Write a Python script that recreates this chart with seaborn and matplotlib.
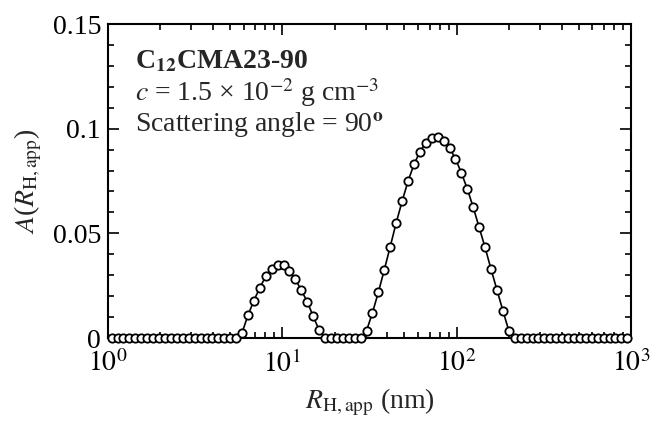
import numpy as np
import pandas as pd
import matplotlib
matplotlib.use("Agg")
import matplotlib.pyplot as plt
import seaborn as sns
from matplotlib.ticker import LogLocator, MultipleLocator, NullFormatter, FixedLocator

# Apparent hydrodynamic radius grid (nm)
r_h_app = [
    1.049, 1.135, 1.227, 1.327, 1.435, 1.552, 1.679, 1.816, 1.963, 2.123,
    2.296, 2.483, 2.685, 2.904, 3.141, 3.396, 3.673, 3.972, 4.295, 4.645,
    5.023, 5.433, 5.875, 6.353, 6.871, 7.430, 8.035, 8.690, 9.397, 10.16,
    10.99, 11.89, 12.85, 13.90, 15.03, 16.26, 17.58, 19.01, 20.56, 22.23,
    24.04, 26.00, 28.12, 30.41, 32.89, 35.56, 38.46, 41.59, 44.98, 48.64,
    52.60, 56.89, 61.52, 66.53, 71.94, 77.80, 84.14, 90.99, 98.40, 106.4,
    115.1, 124.5, 134.6, 145.5, 157.4, 170.2, 184.1, 199.1, 215.3, 232.8,
    251.8, 272.3, 294.4, 318.4, 344.4, 372.4, 402.7, 435.5, 471.0, 509.3,
    550.8, 595.7, 644.2, 696.6, 753.4, 814.7, 881.0, 952.8,
]

# Distribution A(R_H,app)
a_values = (
    [0.0] * 22
    + [0.0025, 0.0109, 0.0179, 0.0241, 0.0294, 0.0329, 0.0347, 0.0347,
       0.0321, 0.0281, 0.0227, 0.0174, 0.0103, 0.0038]
    + [0.0] * 7
    + [0.0035, 0.0121, 0.0219, 0.0326, 0.0437, 0.0550, 0.0653, 0.0749,
       0.0829, 0.0890, 0.0933, 0.0954, 0.0962, 0.0941, 0.0909, 0.0856,
       0.0789, 0.0712, 0.0624, 0.0528, 0.0433, 0.0329, 0.0230, 0.0131,
       0.0035]
    + [0.0] * 20
)

x_ticks = [1, 10, 100, 1000]
x_tick_labels = [r"$10^{0}$", r"$10^{1}$", r"$10^{2}$", r"$10^{3}$"]
y_ticks = [0, 0.05, 0.1, 0.15]
y_tick_labels = ["0", "0.05", "0.1", "0.15"]

df = pd.DataFrame({"R": r_h_app, "A": a_values})

sns.set_theme(style="ticks")
plt.rcParams["font.family"] = ["Liberation Serif", "DejaVu Serif"]
plt.rcParams["mathtext.fontset"] = "stix"

fig = plt.figure(figsize=(6.55, 4.21), dpi=100)
ax = fig.add_axes([108 / 655, 1 - 338 / 421, (631 - 108) / 655, (338 - 24) / 421])

sns.lineplot(
    data=df, x="R", y="A", ax=ax, color="black", linewidth=1.2,
    marker="o", markersize=6.0, markerfacecolor="white",
    markeredgecolor="black", markeredgewidth=1.3, clip_on=False,
    errorbar=None, sort=False, legend=False, zorder=3,
)

ax.set_xscale("log")
ax.set_xlim(1, 1000)
ax.set_ylim(0, 0.15)

ax.xaxis.set_major_locator(FixedLocator(x_ticks))
ax.set_xticklabels(x_tick_labels)
ax.xaxis.set_minor_locator(LogLocator(base=10, subs=np.arange(2, 10), numticks=20))
ax.xaxis.set_minor_formatter(NullFormatter())
ax.yaxis.set_major_locator(FixedLocator(y_ticks))
ax.set_yticklabels(y_tick_labels)
ax.yaxis.set_minor_locator(MultipleLocator(0.01))

ax.tick_params(which="both", direction="in", top=True, right=True,
               colors="black", width=1.2, labelsize=20)
ax.tick_params(which="major", length=8)
ax.tick_params(axis="x", which="major", pad=9)
ax.tick_params(axis="y", which="major", pad=5)
ax.tick_params(which="minor", length=4)
for s in ax.spines.values():
    s.set_linewidth(1.5)
    s.set_color("black")

ax.set_xlabel(r"$R_{\mathrm{H,app}}$ (nm)", fontsize=20, labelpad=6)
ax.set_ylabel(r"$A$($R_{\mathrm{H,app}}$)", fontsize=20, labelpad=6)

x0 = (135 - 108) / 523
ax.text(x0, (338 - 68) / 314, r"C$_{\mathbf{12}}$CMA23-90", transform=ax.transAxes,
        fontsize=20, fontweight="bold", va="baseline", ha="left")
ax.text(x0, (338 - 101) / 314, r"$c$ = 1.5 × 10$^{-2}$ g cm$^{-3}$",
        transform=ax.transAxes, fontsize=20, va="baseline", ha="left")
ax.text(x0, (338 - 131) / 314, r"Scattering angle = 90$^{\mathbf{o}}$",
        transform=ax.transAxes, fontsize=20, va="baseline", ha="left")

fig.savefig("out.png", dpi=100)
